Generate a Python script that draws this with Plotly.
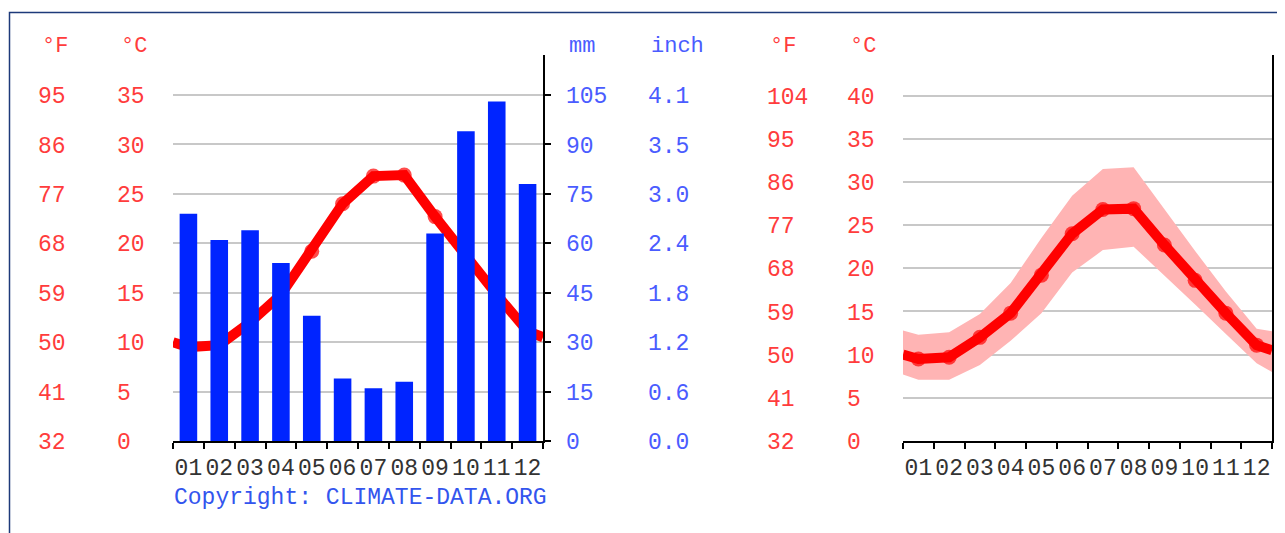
import plotly.graph_objects as go

W, H = 1285, 533
OFF = 8  # page body margin: the figure starts 8px right/down of the screenshot origin

# ---------------- data ----------------
months = ["01", "02", "03", "04", "05", "06", "07", "08", "09", "10", "11", "12"]
month_pos = [1, 2, 3, 4, 5, 6, 7, 8, 9, 10, 11, 12]
precip_mm = [69, 61, 64, 54, 38, 19, 16, 18, 63, 94, 103, 78]
temp_mean = [9.5, 9.7, 12.0, 14.8, 19.2, 24.0, 26.8, 26.9, 22.7, 18.6, 14.8, 11.1]
temp_max = [12.3, 12.6, 14.7, 18.3, 23.5, 28.4, 31.5, 31.7, 26.8, 22.0, 17.3, 13.0]
temp_min = [7.1, 7.1, 8.8, 11.6, 14.8, 19.5, 22.1, 22.5, 19.2, 15.8, 12.4, 9.0]
# values read where the curves meet the left / right edges of the plots
mean_edges = [10.0, 10.5]
max_edges = [12.8, 12.7]
min_edges = [7.7, 8.0]
edge_pos = [0.5, 12.5]

c_ticks_left = [0, 5, 10, 15, 20, 25, 30, 35]
f_labels_left = ["32", "41", "50", "59", "68", "77", "86", "95"]
mm_ticks = [0, 15, 30, 45, 60, 75, 90, 105]
inch_labels = ["0.0", "0.6", "1.2", "1.8", "2.4", "3.0", "3.5", "4.1"]
c_ticks_right = [0, 5, 10, 15, 20, 25, 30, 35, 40]
f_labels_right = ["32", "41", "50", "59", "68", "77", "86", "95", "104"]

# ---------------- styles ----------------
FONT = "Liberation Mono"
FS = 23
RED_TXT = "#ff3c3c"
BLUE_TXT = "#4a5cff"
BAR_BLUE = "#0024ff"
LINE_RED = "#ff0000"
BAND = "#ffb4b4"
GRID = "#c8c8c8"

def px(x):
    return (x - OFF) / W

def py(y):
    return (H - (y - OFF)) / H

YDOM = [py(441), py(55)]
LX = [px(173), px(543)]
RX = [px(903), px(1272)]
C_RANGE_L = [0, 39.05]
MM_RANGE = [0, 117.15]
C_RANGE_R = [0, 44.69]

mean_x = [edge_pos[0]] + month_pos + [edge_pos[1]]
mean_y = [mean_edges[0]] + temp_mean + [mean_edges[1]]
max_y = [max_edges[0]] + temp_max + [max_edges[1]]
min_y = [min_edges[0]] + temp_min + [min_edges[1]]
msize = [0] + [15] * len(month_pos) + [0]

fig = go.Figure()

# left chart: precipitation bars
fig.add_trace(go.Bar(x=month_pos, y=precip_mm, xaxis="x", yaxis="y2",
                     marker=dict(color=BAR_BLUE, line=dict(width=0)), width=0.57,
                     hoverinfo="skip"))
# left chart: mean temperature line
fig.add_trace(go.Scatter(x=mean_x, y=mean_y, xaxis="x", yaxis="y", mode="lines+markers",
                         line=dict(color=LINE_RED, width=10),
                         marker=dict(color=LINE_RED, size=msize, line=dict(width=0)),
                         hoverinfo="skip"))

# right chart: band
fig.add_trace(go.Scatter(x=mean_x, y=max_y, xaxis="x2", yaxis="y5", mode="lines",
                         line=dict(width=0, color=BAND), hoverinfo="skip"))
fig.add_trace(go.Scatter(x=mean_x, y=min_y, xaxis="x2", yaxis="y5", mode="lines",
                         line=dict(width=0, color=BAND), fill="tonexty", fillcolor=BAND,
                         hoverinfo="skip"))
fig.add_trace(go.Scatter(x=mean_x, y=mean_y, xaxis="x2", yaxis="y5", mode="lines+markers",
                         line=dict(color=LINE_RED, width=10),
                         marker=dict(color=LINE_RED, size=msize, line=dict(width=0)),
                         hoverinfo="skip"))

# empty traces so that the label-only axes get drawn
for xa, ya in [("x", "y3"), ("x", "y4"), ("x", "y6"), ("x", "y7"), ("x2", "y8"), ("x2", "y9")]:
    fig.add_trace(go.Scatter(x=[None], y=[None], xaxis=xa, yaxis=ya, mode="markers",
                             hoverinfo="skip", showlegend=False))

xcommon = dict(range=[0.5, 12.5], tickvals=month_pos, ticktext=months, ticks="",
               showline=True, linecolor="black", linewidth=2, showgrid=False, zeroline=False,
               tickfont=dict(family=FONT, size=FS, color="#333333"),
               minor=dict(ticks="outside", tick0=0.5, dtick=1, ticklen=6, tickcolor="black",
                          tickwidth=2, showgrid=False),
               ticklabelstandoff=4, fixedrange=True, automargin=False)

def label_axis(xleft, rng, vals, texts, color, over):
    return dict(overlaying=over, anchor="free", position=px(xleft - 2), side="right",
                domain=YDOM, range=rng, tickvals=vals, ticktext=texts, ticks="",
                showgrid=False, zeroline=False, showline=False, automargin=False,
                tickfont=dict(family=FONT, size=FS, color=color), fixedrange=True)

fig.update_layout(
    width=W, height=H, margin=dict(l=0, r=0, t=0, b=0, pad=0, autoexpand=False),
    autosize=False,
    paper_bgcolor="white", plot_bgcolor="white", showlegend=False, barmode="overlay",
    xaxis=dict(domain=LX, anchor="y", **xcommon),
    xaxis2=dict(domain=RX, anchor="y5", **xcommon),
    yaxis=dict(domain=YDOM, anchor="x", range=C_RANGE_L, tickvals=c_ticks_left,
               showticklabels=False, ticks="", showgrid=True, gridcolor=GRID, gridwidth=1.5,
               zeroline=False, showline=False, fixedrange=True, automargin=False),
    yaxis2=dict(domain=YDOM, anchor="x", overlaying="y", side="right", range=MM_RANGE,
                tickvals=mm_ticks, ticktext=[str(v) for v in mm_ticks], ticks="outside",
                ticklen=6, tickwidth=2, tickcolor="black", showline=True, linecolor="black",
                linewidth=2, showgrid=False, zeroline=False, showticklabels=False,
                fixedrange=True, automargin=False),
    yaxis3=label_axis(39, C_RANGE_L, c_ticks_left, f_labels_left, RED_TXT, "y"),
    yaxis4=label_axis(118, C_RANGE_L, c_ticks_left, [str(v) for v in c_ticks_left], RED_TXT, "y"),
    yaxis6=label_axis(567, MM_RANGE, mm_ticks, [str(v) for v in mm_ticks], BLUE_TXT, "y"),
    yaxis7=label_axis(649, MM_RANGE, mm_ticks, inch_labels, BLUE_TXT, "y"),
    yaxis5=dict(domain=YDOM, anchor="x2", side="right", range=C_RANGE_R, tickvals=c_ticks_right,
                showticklabels=False, ticks="", showgrid=True, gridcolor=GRID, gridwidth=1.5,
                zeroline=False, showline=True, linecolor="black", linewidth=2, fixedrange=True,
                automargin=False),
    yaxis8=label_axis(768, C_RANGE_R, c_ticks_right, f_labels_right, RED_TXT, "y5"),
    yaxis9=label_axis(848, C_RANGE_R, c_ticks_right, [str(v) for v in c_ticks_right], RED_TXT, "y5"),
)

headers = [(40, "°F", RED_TXT), (119, "°C", RED_TXT), (567, "mm", BLUE_TXT),
           (649, "inch", BLUE_TXT), (768, "°F", RED_TXT), (848, "°C", RED_TXT)]
for x, t, c in headers:
    fig.add_annotation(x=px(x), y=py(47), xref="paper", yref="paper", text=t, showarrow=False,
                       xanchor="left", yanchor="middle",
                       font=dict(family=FONT, size=FS - 1, color=c))

fig.add_annotation(x=px(172), y=py(498), xref="paper", yref="paper",
                   text="Copyright: CLIMATE-DATA.ORG", showarrow=False, xanchor="left",
                   yanchor="middle", font=dict(family=FONT, size=FS, color="#3355ee"))

# outer frame of the widget
fig.add_shape(type="rect", xref="paper", yref="paper", x0=px(9.5), x1=1.05,
              y0=-0.05, y1=py(12.5), line=dict(color="#1d3a7a", width=1.5),
              fillcolor="rgba(0,0,0,0)", layer="above")

fig.write_html("out.html")
